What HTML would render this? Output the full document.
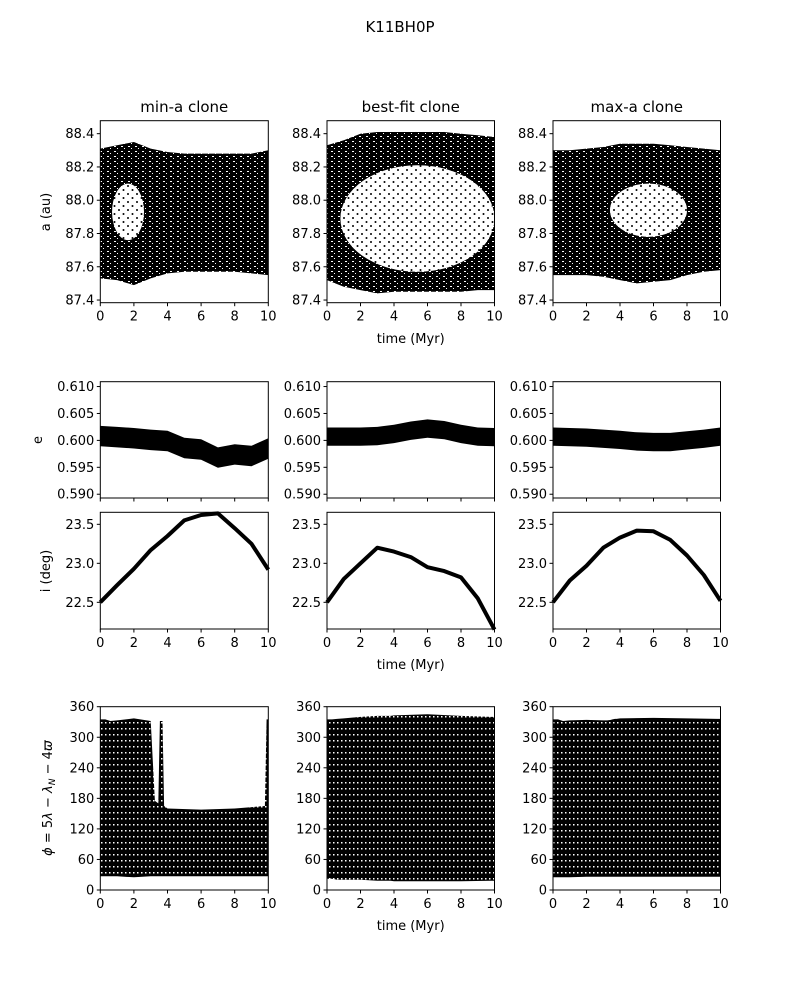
<!DOCTYPE html>
<html><head><meta charset="utf-8">
<style>
body{margin:0;background:#fff;}
svg text{font-family:"DejaVu Sans","Liberation Sans",sans-serif;fill:#000;}
</style></head>
<body>
<svg id="fig" width="800" height="1000" viewBox="0 0 800 1000" xmlns="http://www.w3.org/2000/svg">
<defs>
<pattern id="speck" width="7" height="5" patternUnits="userSpaceOnUse">
<rect width="7" height="5" fill="#000"/>
<rect x="2" y="1" width="2" height="1" fill="#fff"/>
<rect x="5" y="3" width="1" height="1" fill="#fff"/>
</pattern>
<pattern id="holedots" width="9" height="8" patternUnits="userSpaceOnUse">
<rect width="9" height="8" fill="#fff"/>
<circle cx="2" cy="2" r="1" fill="#000"/>
<circle cx="6.5" cy="6" r="1" fill="#000"/>
</pattern>
<pattern id="phitex" width="4" height="6" patternUnits="userSpaceOnUse">
<rect width="4" height="6" fill="#000"/>
<rect x="1" y="2" width="1.5" height="1.5" fill="#fff"/>
</pattern>
</defs>
<text x="400" y="32" text-anchor="middle" font-size="15">K11BH0P</text>
</svg>
<script>
// ---- data ----
const tGrid = [0,1,2,3,4,5,6,7,8,9,10];
const colTitles = ["min-a clone","best-fit clone","max-a clone"];
// semi-major axis envelopes (au)
const aUpper = [
 [88.31,88.33,88.35,88.31,88.29,88.28,88.28,88.28,88.28,88.28,88.30],
 [88.33,88.36,88.40,88.41,88.41,88.41,88.41,88.41,88.40,88.39,88.38],
 [88.30,88.30,88.31,88.32,88.34,88.34,88.34,88.33,88.32,88.31,88.30]];
const aLower = [
 [87.53,87.52,87.49,87.53,87.56,87.57,87.57,87.57,87.57,87.56,87.55],
 [87.52,87.48,87.46,87.44,87.45,87.45,87.45,87.45,87.45,87.46,87.46],
 [87.55,87.55,87.55,87.54,87.52,87.50,87.51,87.52,87.55,87.57,87.58]];
// libration hole: [center t, center a, half-width t, half-height a]
const aHole = [[1.65,87.93,0.95,0.17],[5.4,87.89,4.6,0.32],[5.7,87.94,2.3,0.16]];
// eccentricity band centers and half-width
const eCenter = [
 [0.6008,0.6006,0.6004,0.6001,0.5999,0.5986,0.5983,0.5968,0.5974,0.5971,0.5985],
 [0.6007,0.6007,0.6007,0.6008,0.6012,0.6018,0.6022,0.6019,0.6012,0.6007,0.6006],
 [0.6007,0.6006,0.6005,0.6003,0.6001,0.5998,0.5997,0.5997,0.6000,0.6003,0.6007]];
const eHalf = [0.0019,0.0017,0.0017];
// inclination (deg)
const incl = [
 [22.5,22.72,22.93,23.17,23.35,23.55,23.62,23.64,23.45,23.25,22.92],
 [22.5,22.8,23.0,23.2,23.15,23.08,22.95,22.9,22.82,22.55,22.15],
 [22.5,22.78,22.97,23.2,23.33,23.42,23.41,23.3,23.1,22.85,22.52]];
// resonant angle envelopes (deg)
const phiT = [0,0.3,0.6,1,2,3,3.25,3.45,3.55,3.7,3.8,4,6,8,9.8,9.9,10];
const phiUpper = [
 [335,335,332,333,337,332,175,170,332,332,165,160,158,160,165,335,335],
 [335,335,336,337,340,342,342,342,342,342,342,343,345,342,340,340,340],
 [335,335,332,333,334,333,333,334,335,336,336,337,338,337,336,336,336]];
const phiLower = [
 [27,27,27,27,25,27,27,27,27,27,27,27,27,27,27,27,27],
 [22,22,20,20,20,18,18,18,18,18,18,17,17,17,18,18,18],
 [25,25,25,25,26,26,26,26,26,26,26,26,26,26,26,26,26]];
const aTicks = [87.4,87.6,87.8,88.0,88.2,88.4];
const eTicks = [0.590,0.595,0.600,0.605,0.610];
const iTicks = [22.5,23.0,23.5];
const phiTicks = [0,60,120,180,240,300,360];
const xTicks = [0,2,4,6,8,10];

// ---- layout ----
const NS="http://www.w3.org/2000/svg";
const svg=document.getElementById('fig');
const colX=[[100.3,268.3],[327,494.5],[553,720.5]];
const rows={a:[120.7,302.7,87.384,88.478],e:[381.7,498,0.5893,0.6109],i:[512.3,629,22.158,23.654],p:[706.7,890,0,360]};
function mk(tag,attrs,parent){const el=document.createElementNS(NS,tag);for(const k in attrs)el.setAttribute(k,attrs[k]);(parent||svg).appendChild(el);return el;}
function sx(c,t){const[x0,x1]=colX[c];return x0+(x1-x0)*t/10;}
function sy(r,v){const[y0,y1,v0,v1]=rows[r];return y1-(y1-y0)*(v-v0)/(v1-v0);}
function fmt(v,r){if(r==='a')return v.toFixed(1);if(r==='e')return v.toFixed(3);if(r==='i')return v.toFixed(1);return String(v);}

function band(c,r,ts,up,lo,fill,name){
  let d='';
  ts.forEach((t,k)=>{d+=(k?'L':'M')+sx(c,t).toFixed(1)+','+sy(r,up[k]).toFixed(1);});
  for(let k=ts.length-1;k>=0;k--)d+='L'+sx(c,ts[k]).toFixed(1)+','+sy(r,lo[k]).toFixed(1);
  const p=mk('path',{d:d+'Z',fill:fill});
  
  
  return p;
}

function axes(c,r,ticks,showXLabels){
  const[y0,y1]=rows[r];const[x0,x1]=colX[c];
  const g=mk('g',{});
  
  
  mk('rect',{x:x0,y:y0,width:x1-x0,height:y1-y0,fill:'none',stroke:'#000','stroke-width':1},g);
  ticks.forEach(v=>{const y=sy(r,v);
    mk('line',{x1:x0-3.5,x2:x0,y1:y,y2:y,stroke:'#000'},g);
    const t=mk('text',{x:x0-6,y:y+4.5,'text-anchor':'end','font-size':13},g);t.textContent=fmt(v,r);
    
    });
  xTicks.forEach(v=>{const x=sx(c,v);
    mk('line',{x1:x,x2:x,y1:y1,y2:y1+3.5,stroke:'#000'},g);
    if(showXLabels){const t=mk('text',{x:x,y:y1+18,'text-anchor':'middle','font-size':13},g);t.textContent=v;
      
      }});
}

for(let c=0;c<3;c++){
  // titles
  const tt=mk('text',{x:(colX[c][0]+colX[c][1])/2,y:112,'text-anchor':'middle','font-size':15});
  tt.textContent=colTitles[c];
  
  
  // a
  band(c,'a',tGrid,aUpper[c],aLower[c],'url(#speck)','a-scatter-band');
  const h=aHole[c];
  const el=mk('ellipse',{cx:sx(c,h[0]),cy:sy('a',h[1]),rx:sx(c,h[2])-sx(c,0),ry:sy('a',87.9-h[3])-sy('a',87.9),fill:'url(#holedots)'});
  
  
  axes(c,'a',aTicks,true);
  // e
  band(c,'e',tGrid,eCenter[c].map(v=>v+eHalf[c]),eCenter[c].map(v=>v-eHalf[c]),'#000','e-scatter-band');
  axes(c,'e',eTicks,false);
  // i
  let d='';tGrid.forEach((t,k)=>{d+=(k?'L':'M')+sx(c,t).toFixed(1)+','+sy('i',incl[c][k]).toFixed(1);});
  const ln=mk('path',{d:d,fill:'none',stroke:'#000','stroke-width':4,'stroke-linejoin':'round'});
  
  
  axes(c,'i',iTicks,true);
  // phi
  band(c,'p',phiT,phiUpper[c],phiLower[c],'url(#phitex)','phi-scatter-band');
  axes(c,'p',phiTicks,true);
}
// axis labels
function lab(txt,x,y,rot,name){const t=mk('text',{x:x,y:y,'text-anchor':'middle','font-size':13});
  if(rot)t.setAttribute('transform','rotate(-90 '+x+' '+y+')');t.innerHTML=txt;
  
  return t;}
lab('time (Myr)',410.7,343,false,'x-axis-title-a');
lab('time (Myr)',410.7,669,false,'x-axis-title-i');
lab('time (Myr)',410.7,930,false,'x-axis-title-phi');
lab('a (au)',50,212,true,'y-axis-title-a');
lab('e',42,440,true,'y-axis-title-e');
lab('i (deg)',50,571,true,'y-axis-title-i');
lab('<tspan font-style="italic">ϕ</tspan> = 5<tspan font-style="italic">λ</tspan> − <tspan font-style="italic">λ</tspan><tspan font-size="9" font-style="italic" dy="3">N</tspan><tspan dy="-3"> − 4</tspan><tspan font-style="italic">ϖ</tspan>',52,798,true,'y-axis-title-phi');
</script>
</body></html>
